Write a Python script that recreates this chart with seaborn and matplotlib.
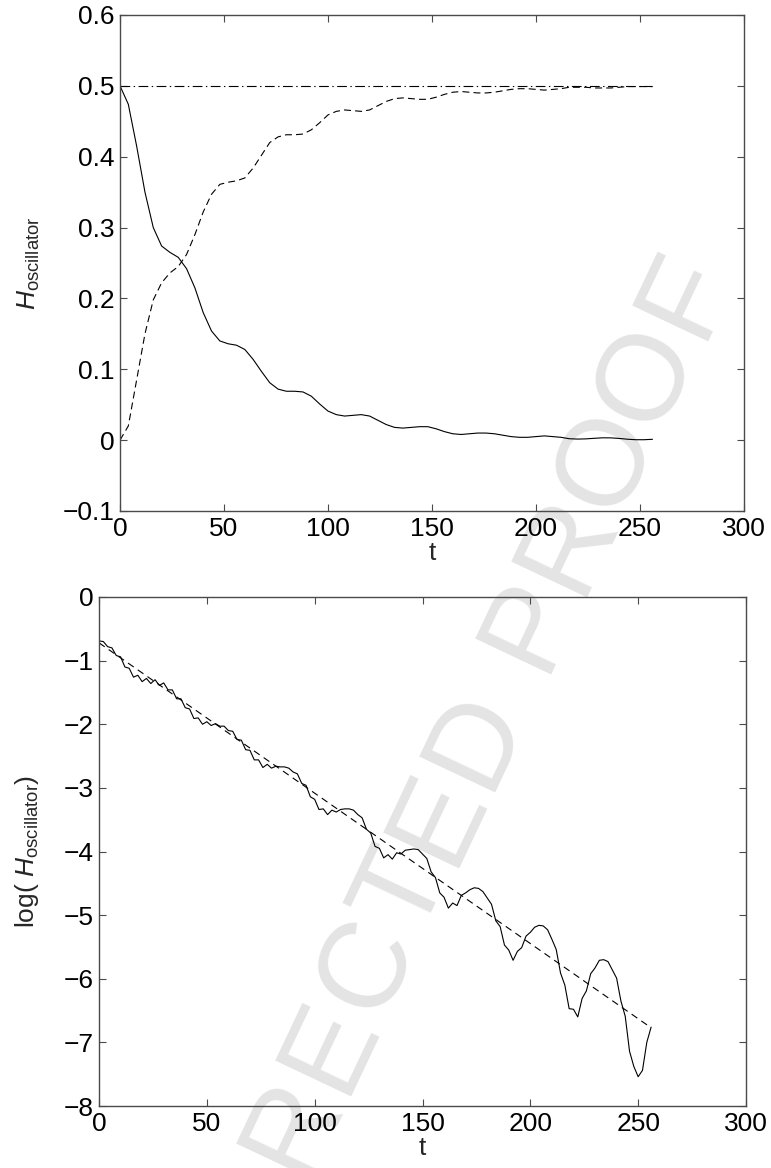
import numpy as np
import pandas as pd
import matplotlib
matplotlib.use("Agg")
import matplotlib.pyplot as plt
import seaborn as sns

# ---------------- data ----------------
t_top = np.arange(0, 257, 4)
H_osc = [0.500, 0.474, 0.415, 0.350, 0.300, 0.274, 0.265, 0.258, 0.242, 0.215,
         0.180, 0.154, 0.140, 0.136, 0.134, 0.128, 0.114, 0.097, 0.081, 0.072,
         0.069, 0.069, 0.068, 0.062, 0.051, 0.041, 0.036, 0.034, 0.035, 0.036,
         0.034, 0.028, 0.022, 0.018, 0.017, 0.018, 0.019, 0.019, 0.016, 0.012,
         0.009, 0.008, 0.009, 0.010, 0.010, 0.009, 0.007, 0.005, 0.004, 0.004,
         0.005, 0.006, 0.005, 0.004, 0.002, 0.0015, 0.0018, 0.0026, 0.0033, 0.0032,
         0.0024, 0.0013, 0.0006, 0.0006, 0.0012]
H_bath = [0.000, 0.020, 0.085, 0.150, 0.198, 0.222, 0.236, 0.245, 0.262, 0.290,
          0.322, 0.347, 0.361, 0.364, 0.366, 0.370, 0.384, 0.402, 0.420, 0.428,
          0.431, 0.431, 0.432, 0.438, 0.448, 0.459, 0.464, 0.466, 0.465, 0.464,
          0.466, 0.472, 0.478, 0.482, 0.483, 0.482, 0.481, 0.481, 0.484, 0.488,
          0.491, 0.492, 0.491, 0.490, 0.490, 0.491, 0.493, 0.495, 0.496, 0.496,
          0.495, 0.494, 0.495, 0.496, 0.498, 0.498, 0.498, 0.497, 0.497, 0.497,
          0.498, 0.499, 0.499, 0.499, 0.499]
total_t = [0, 256]
total_v = [0.5, 0.5]

t_log = np.arange(0, 257, 2)
logH = [-0.69, -0.70, -0.78, -0.80, -0.92, -0.94, -1.10, -1.12, -1.26, -1.23,
        -1.33, -1.28, -1.36, -1.30, -1.39, -1.35, -1.46, -1.46, -1.60, -1.60,
        -1.74, -1.76, -1.91, -1.90, -2.00, -1.96, -2.02, -1.99, -2.03, -2.03,
        -2.10, -2.11, -2.24, -2.25, -2.40, -2.41, -2.56, -2.56, -2.68, -2.63,
        -2.69, -2.66, -2.67, -2.67, -2.69, -2.75, -2.78, -2.93, -2.96, -3.14,
        -3.18, -3.34, -3.33, -3.42, -3.35, -3.38, -3.34, -3.33, -3.33, -3.35,
        -3.42, -3.47, -3.65, -3.71, -3.92, -3.95, -4.10, -4.05, -4.12, -4.02,
        -4.04, -3.98, -3.97, -3.96, -3.97, -4.04, -4.11, -4.32, -4.41, -4.65,
        -4.72, -4.89, -4.81, -4.85, -4.69, -4.65, -4.60, -4.57, -4.58, -4.63,
        -4.73, -4.83, -5.09, -5.18, -5.47, -5.55, -5.71, -5.57, -5.51, -5.33,
        -5.27, -5.19, -5.16, -5.17, -5.23, -5.38, -5.54, -5.91, -6.10, -6.47,
        -6.48, -6.60, -6.31, -6.19, -5.92, -5.83, -5.71, -5.70, -5.73, -5.86,
        -5.99, -6.35, -6.59, -7.14, -7.38, -7.54, -7.44, -7.00, -6.76]
fit_t = [0, 256]
fit_v = [-0.72, -6.77]

x_ticks = [0, 50, 100, 150, 200, 250, 300]
top_yticks = [-0.1, 0, 0.1, 0.2, 0.3, 0.4, 0.5, 0.6]
bot_yticks = [0, -1, -2, -3, -4, -5, -6, -7, -8]

# ---------------- style ----------------
sns.set_theme(style="ticks")
plt.rcParams["font.family"] = ["Liberation Sans", "DejaVu Sans"]
plt.rcParams["mathtext.fontset"] = "custom"
plt.rcParams["mathtext.rm"] = "Liberation Sans"
plt.rcParams["mathtext.it"] = "Liberation Sans:italic"
plt.rcParams["lines.scale_dashes"] = False
plt.rcParams["axes.unicode_minus"] = True

W, H = 771, 1168
fig = plt.figure(figsize=(W / 100, H / 100), dpi=100)
fig.patch.set_facecolor("white")

def px_rect(l, t, r, b):
    return [l / W, 1 - b / H, (r - l) / W, (b - t) / H]

ax1 = fig.add_axes(px_rect(120, 15, 744, 511))
ax2 = fig.add_axes(px_rect(99, 597, 746, 1106))

spine_c = "#4a4a4a"
FS = 19

def style_axes(ax):
    ax.set_facecolor("none")
    for s in ax.spines.values():
        s.set_visible(True)
        s.set_color(spine_c)
        s.set_linewidth(1.0)
    ax.tick_params(direction="in", top=True, right=True, length=5, width=0.8,
                   color=spine_c, labelcolor="black", labelsize=FS, pad=4)

lw = 0.8
# top panel
df_top = pd.DataFrame({"t": t_top, "osc": H_osc, "bath": H_bath})
sns.lineplot(data=df_top, x="t", y="osc", ax=ax1, color="black", lw=lw,
             estimator=None, sort=False)
sns.lineplot(data=df_top, x="t", y="bath", ax=ax1, color="black", lw=lw,
             linestyle=(0, (5, 3)), estimator=None, sort=False)
sns.lineplot(x=total_t, y=total_v, ax=ax1, color="black", lw=lw,
             linestyle=(0, (7, 2.5, 1, 2.5)), estimator=None, sort=False)
ax1.set_xlim(0, 300)
ax1.set_ylim(-0.1, 0.6)
ax1.set_xticks(x_ticks)
ax1.set_yticks(top_yticks)
ax1.set_xticklabels([str(v) for v in x_ticks])
ax1.set_yticklabels(["\u22120.1", "0", "0.1", "0.2", "0.3", "0.4", "0.5", "0.6"])
ax1.set_xlabel("t", fontsize=FS, labelpad=0.5)
ax1.set_ylabel(r"$H_{\mathrm{oscillator}}$", fontsize=FS, labelpad=15)
style_axes(ax1)

# bottom panel
df_bot = pd.DataFrame({"t": t_log, "logH": logH})
sns.lineplot(data=df_bot, x="t", y="logH", ax=ax2, color="black", lw=lw,
             estimator=None, sort=False)
sns.lineplot(x=fit_t, y=fit_v, ax=ax2, color="black", lw=lw,
             linestyle=(0, (5, 3.5)), estimator=None, sort=False)
ax2.set_xlim(0, 300)
ax2.set_ylim(-8, 0)
ax2.set_xticks(x_ticks)
ax2.set_yticks(bot_yticks)
ax2.set_xticklabels([str(v) for v in x_ticks])
ax2.set_yticklabels(["0"] + ["\u2212%d" % (-v) for v in bot_yticks[1:]])
ax2.set_xlabel("t", fontsize=FS, labelpad=0.5)
ax2.set_ylabel(r"log( $H_{\mathrm{oscillator}}$)", fontsize=FS, labelpad=16)
style_axes(ax2)

# ---------------- watermark ----------------
letters = "RECTED PROOF"
offsets = [0, 88, 176, 258, 340, 428, None, 555, 643, 733, 828, 920]
ang = 64.7
ux, uy = np.cos(np.radians(ang)), -np.sin(np.radians(ang))
x0, y0 = 293, 1125
for ch, off in zip(letters, offsets):
    if off is None:
        continue
    px, py = x0 + off * ux, y0 + off * uy
    fig.text(px / W, 1 - py / H, ch, rotation=ang, rotation_mode="anchor",
             ha="center", va="center", fontsize=88, color="#e4e4e4",
             fontweight="normal", zorder=-10)

fig.savefig("out.png", dpi=100)
